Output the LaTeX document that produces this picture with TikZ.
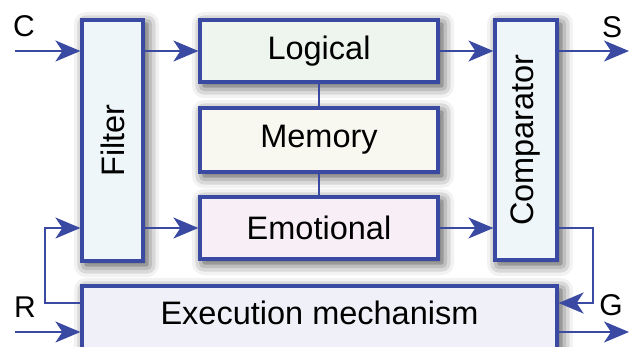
\documentclass[tikz,border=0pt]{standalone}
\usepackage{fontspec}
\setmainfont{Liberation Sans}
\usetikzlibrary{arrows.meta,shadows.blur}
\definecolor{edge}{HTML}{3A4AA2}
\definecolor{fblue}{HTML}{EEF6F9}
\definecolor{fgreen}{HTML}{EEF5EF}
\definecolor{fcream}{HTML}{F8F8F1}
\definecolor{fpink}{HTML}{F8EEF5}
\definecolor{flav}{HTML}{F0F0F9}
\tikzset{
  bigfont/.style={font=\fontsize{32.5}{36}\selectfont},
  blk/.style={draw=edge, line width=3.2pt, inner sep=0pt, bigfont,
    blur shadow={shadow xshift=4pt, shadow yshift=-4pt, shadow blur radius=12pt, shadow opacity=80}},
  conn/.style={draw=edge, line width=2pt},
  arr/.style={conn, -{Stealth[length=25pt,width=21pt,inset=7pt]}},
  lbl/.style={font=\fontsize{30}{32}\selectfont, inner sep=0pt}
}
\begin{document}
\begin{tikzpicture}[x=1pt,y=-1pt]
\useasboundingbox (0,0) rectangle (629,346);
\node[blk, fill=fblue, minimum width=61pt, minimum height=241pt] (filter) at (112.5,140.5) {};
\node[rotate=90, bigfont] (filtertxt) at (filter.center) {Filter};
\node[blk, fill=fgreen, minimum width=238pt, minimum height=62pt] (logical) at (319,51) {Logical};
\node[blk, fill=fcream, minimum width=238pt, minimum height=64pt] (memory) at (319,140) {Memory};
\node[blk, fill=fpink, minimum width=238pt, minimum height=62pt] (emotional) at (319,228) {Emotional};
\node[blk, fill=fblue, minimum width=62pt, minimum height=240pt] (comp) at (526,140) {};
\node[rotate=90, bigfont] (comptxt) at (comp.center) {Comparator};
\node[blk, fill=flav, minimum width=475pt, minimum height=66pt] (exec) at (319.5,319) {};
\node[bigfont] (exectxt) at (319.5,313) {Execution mechanism};

\node[lbl] (lc) at (24,26) {C};
\node[lbl] (ls) at (612,27) {S};
\node[lbl] (lr) at (25,307) {R};
\node[lbl] (lg) at (611,305) {G};

\coordinate (cin) at (15,51);
\coordinate (sout) at (629,51);
\coordinate (rin) at (15,332);
\coordinate (gout) at (629,332);
\coordinate (fbl) at (45,303);
\coordinate (fbr) at (593,303);

\draw[arr] (cin) -- (cin -| filter.west);
\draw[arr] (filter.east |- logical.west) -- (logical.west);
\draw[arr] (logical.east) -- (logical.east -| comp.west);
\draw[arr] (comp.east |- sout) -- (sout);
\draw[arr] (filter.east |- emotional.west) -- (emotional.west);
\draw[arr] (emotional.east) -- (emotional.east -| comp.west);
\draw[conn] (logical.south) -- (memory.north);
\draw[conn] (memory.south) -- (emotional.north);
\draw[arr] (exec.west |- fbl) -- (fbl) -- (fbl |- emotional.west) -- (filter.west |- emotional.west);
\draw[arr] (comp.east |- emotional.west) -- (fbr |- emotional.west) -- (fbr) -- (exec.east |- fbr);
\draw[arr] (rin) -- (rin -| exec.west);
\draw[arr] (exec.east |- gout) -- (gout);
\end{tikzpicture}
\end{document}
